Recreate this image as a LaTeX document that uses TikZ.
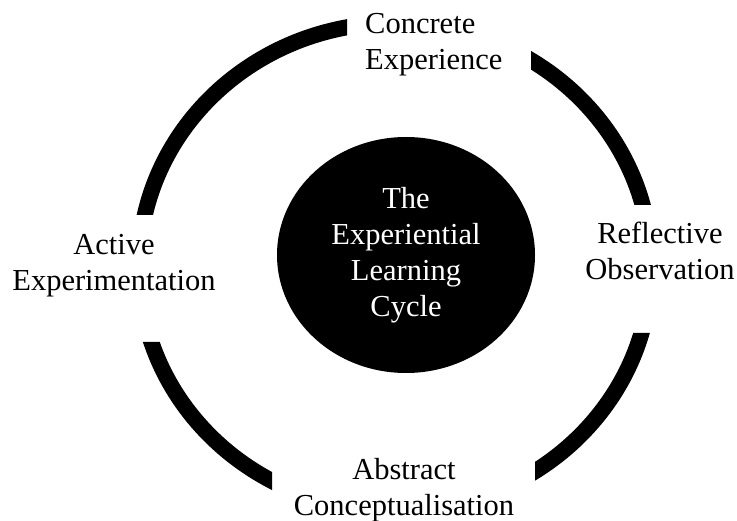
\documentclass[tikz,border=0pt]{standalone}
\usepackage{fontspec}
\setmainfont{Liberation Serif}
\usetikzlibrary{shapes.geometric}

\begin{document}
\begin{tikzpicture}[x=1pt,y=-1pt,
    stage/.style={inner sep=0pt, align=center, font=\fontsize{30.5}{36}\selectfont},
  ]
  \useasboundingbox (0,0) rectangle (737,521);
  % ring, cut open where the four stages sit
  \begin{scope}[even odd rule]
    \clip (0,0) rectangle (737,521)
      (347,0) rectangle (531,76)
      (580,205) rectangle (737,333)
      (272,440) rectangle (535,521)
      (0,215) rectangle (220,342);
    \draw[line width=16pt] (395,267) ellipse [x radius=256pt, y radius=244pt];
  \end{scope}
  \node (cycle)[stage, ellipse, fill=black, text=white, minimum width=258pt, minimum height=236pt] at (406,255) {The\\Experiential\\Learning\\Cycle};
  \node (ce)[stage, anchor=west, align=left] at (365,44.5) {Concrete\\Experience};
  \node (ro)[stage] at (660,251) {Reflective\\Observation};
  \node (ac)[stage] at (404,490) {Abstract\\Conceptualisation};
  \node (ae)[stage] at (114,265.6) {Active\\Experimentation};
\end{tikzpicture}
\end{document}
